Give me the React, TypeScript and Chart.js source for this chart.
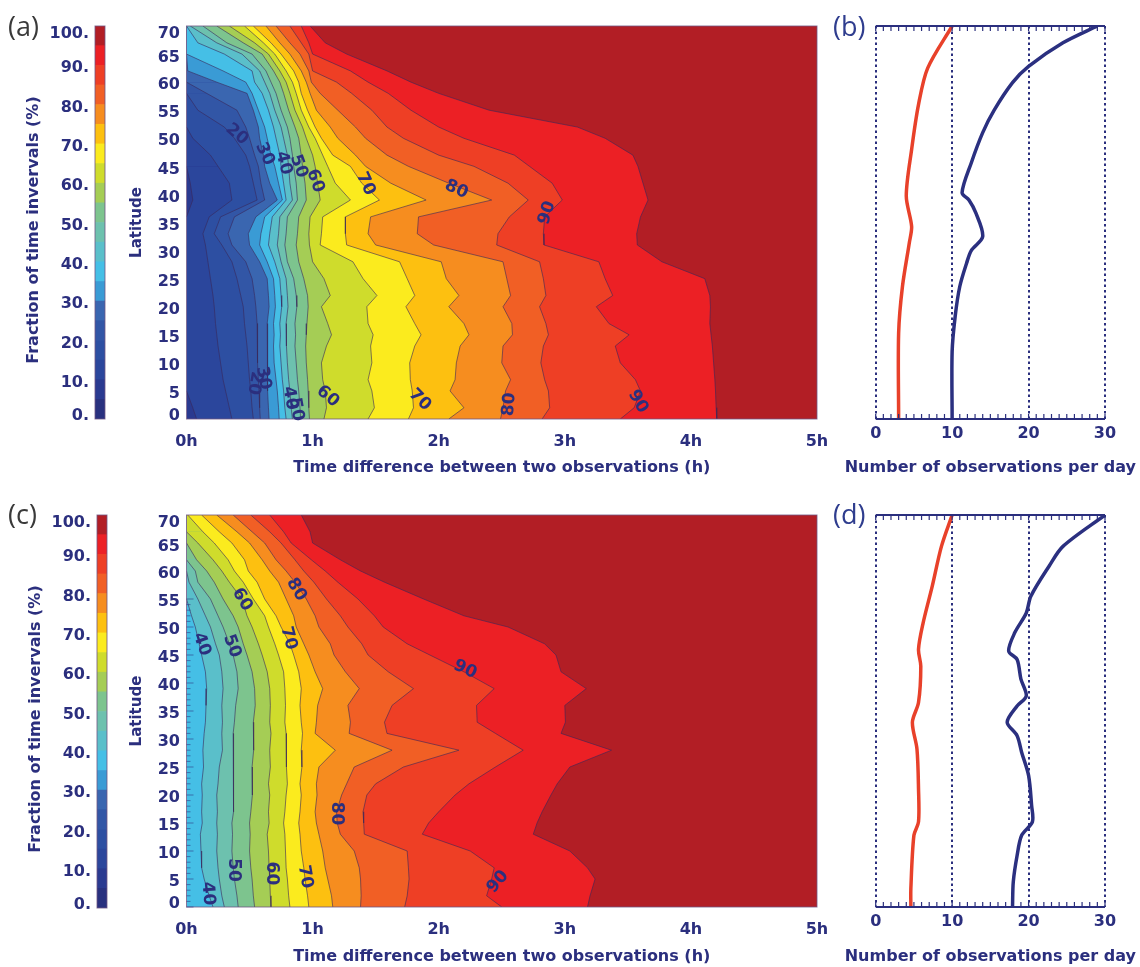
import { useEffect, useRef } from "react";
import { Chart, registerables } from "chart.js";

Chart.register(...registerables);

const NAVY = "#2b2f7e";
const FONT = "'DejaVu Sans', sans-serif";

// one colour per 5% band, 0-5 up to 95-100
const bandColors = [
  "#29317f", "#2a3a90", "#2b469c", "#2d4fa2", "#3256a6", "#3a66b0", "#3a9bd5", "#45bfe6", "#5abfca", "#6dc1ae",
  "#7dc48e", "#a5cd55", "#cfdc2c", "#fbeb1e", "#fdc010", "#f68d1f", "#f15f25", "#ee3f25", "#ec2025", "#b21e25",
];
const bandSteps = [5, 5, 5, 5, 5, 5, 5, 5, 5, 5, 5, 5, 5, 5, 5, 5, 5, 5, 5, 5];

const lats = [70, 67, 65, 62, 60, 58, 55, 52, 50, 47, 45, 42, 39, 36, 33, 31, 28, 25, 22, 20, 17, 15, 13, 10, 7, 5, 2, 0];

// hours at which the fraction reaches each level, one value per entry of lats
const levelsA = [5, 10, 15, 20, 25, 30, 35, 40, 45, 50, 55, 60, 65, 70, 75, 80, 85, 90, 95];
const contoursA = [
  [0, 0, 0, 0, 0, 0, 0, 0, 0, 0, 0, 0, 0, 0, 0, 0, 0, 0, 0, 0, 0, 0, 0, 0, 0, 0, 0, 0],
  [0, 0, 0, 0, 0, 0, 0, 0, 0, 0, 0, 0.03, 0.05, 0, 0, 0, 0, 0, 0, 0, 0, 0, 0, 0, 0, 0, 0.05, 0.08],
  [0, 0, 0, 0, 0, 0, 0, 0, 0.05, 0.19, 0.25, 0.34, 0.36, 0.18, 0.13, 0.15, 0.17, 0.19, 0.21, 0.22, 0.23, 0.24, 0.25, 0.27, 0.29, 0.31, 0.34, 0.36],
  [0, 0, 0, 0, 0, 0, 0.09, 0.3, 0.38, 0.47, 0.5, 0.53, 0.56, 0.27, 0.22, 0.28, 0.36, 0.4, 0.43, 0.45, 0.46, 0.47, 0.48, 0.49, 0.5, 0.51, 0.52, 0.53],
  [0, 0, 0, 0, 0, 0.16, 0.4, 0.47, 0.5, 0.54, 0.57, 0.59, 0.62, 0.38, 0.33, 0.36, 0.47, 0.52, 0.54, 0.55, 0.56, 0.565, 0.56, 0.565, 0.57, 0.575, 0.58, 0.585],
  [0, 0, 0, 0.01, 0.24, 0.48, 0.53, 0.57, 0.58, 0.61, 0.62, 0.66, 0.72, 0.55, 0.49, 0.5, 0.58, 0.64, 0.65, 0.655, 0.64, 0.645, 0.64, 0.645, 0.64, 0.645, 0.65, 0.655],
  [0, 0, 0, 0.29, 0.47, 0.52, 0.57, 0.62, 0.64, 0.67, 0.7, 0.73, 0.76, 0.62, 0.59, 0.58, 0.64, 0.69, 0.7, 0.705, 0.69, 0.695, 0.69, 0.695, 0.71, 0.72, 0.73, 0.735],
  [0, 0.09, 0.3, 0.52, 0.54, 0.6, 0.65, 0.69, 0.71, 0.74, 0.75, 0.77, 0.79, 0.68, 0.66, 0.65, 0.7, 0.74, 0.75, 0.755, 0.74, 0.745, 0.74, 0.75, 0.76, 0.77, 0.78, 0.79],
  [0.03, 0.24, 0.44, 0.58, 0.62, 0.66, 0.7, 0.75, 0.77, 0.8, 0.81, 0.82, 0.84, 0.74, 0.73, 0.72, 0.75, 0.79, 0.8, 0.805, 0.79, 0.795, 0.79, 0.8, 0.81, 0.82, 0.83, 0.84],
  [0.13, 0.32, 0.52, 0.63, 0.67, 0.71, 0.75, 0.8, 0.82, 0.84, 0.85, 0.87, 0.88, 0.8, 0.79, 0.78, 0.8, 0.85, 0.87, 0.875, 0.86, 0.865, 0.86, 0.87, 0.88, 0.89, 0.9, 0.905],
  [0.24, 0.45, 0.6, 0.69, 0.74, 0.77, 0.81, 0.86, 0.89, 0.91, 0.92, 0.94, 0.95, 0.89, 0.88, 0.87, 0.89, 0.93, 0.96, 0.965, 0.955, 0.95, 0.945, 0.95, 0.96, 0.965, 0.97, 0.975],
  [0.34, 0.54, 0.65, 0.74, 0.79, 0.82, 0.86, 0.92, 0.95, 1, 1.02, 1.04, 1.06, 0.98, 0.97, 0.975, 1, 1.09, 1.14, 1.07, 1.12, 1.15, 1.11, 1.07, 1.08, 1.1, 1.11, 1.09],
  [0.46, 0.61, 0.7, 0.79, 0.84, 0.87, 0.91, 0.97, 1.02, 1.08, 1.12, 1.18, 1.3, 1.08, 1.07, 1.06, 1.32, 1.4, 1.51, 1.43, 1.44, 1.48, 1.46, 1.47, 1.44, 1.47, 1.49, 1.44],
  [0.53, 0.67, 0.75, 0.85, 0.89, 0.91, 0.96, 1.02, 1.07, 1.16, 1.3, 1.39, 1.53, 1.26, 1.26, 1.27, 1.69, 1.75, 1.81, 1.74, 1.81, 1.86, 1.81, 1.77, 1.775, 1.79, 1.8, 1.76],
  [0.63, 0.74, 0.82, 0.91, 0.95, 0.98, 1.03, 1.14, 1.2, 1.34, 1.42, 1.62, 1.9, 1.46, 1.44, 1.5, 2.02, 2.06, 2.16, 2.08, 2.2, 2.24, 2.17, 2.14, 2.13, 2.09, 2.2, 2.08],
  [0.71, 0.82, 0.9, 0.97, 0.99, 1.06, 1.2, 1.34, 1.42, 1.59, 1.76, 2.08, 2.42, 1.84, 1.83, 1.96, 2.51, 2.54, 2.57, 2.51, 2.58, 2.585, 2.51, 2.5, 2.57, 2.53, 2.51, 2.49],
  [0.82, 0.91, 0.97, 1, 1.19, 1.31, 1.47, 1.59, 1.72, 2, 2.28, 2.55, 2.71, 2.56, 2.47, 2.46, 2.8, 2.83, 2.85, 2.8, 2.85, 2.87, 2.83, 2.81, 2.84, 2.87, 2.88, 2.82],
  [0.91, 0.97, 1, 1.3, 1.44, 1.6, 1.78, 2, 2.2, 2.6, 2.72, 2.9, 2.98, 2.84, 2.83, 2.835, 3.27, 3.32, 3.38, 3.25, 3.35, 3.51, 3.4, 3.44, 3.56, 3.6, 3.55, 3.44],
  [0.98, 1.1, 1.27, 1.59, 1.78, 2, 2.4, 3.1, 3.32, 3.54, 3.58, 3.62, 3.66, 3.6, 3.57, 3.575, 3.77, 4.11, 4.15, 4.155, 4.15, 4.16, 4.17, 4.18, 4.19, 4.195, 4.2, 4.205],
];

const levelsC = [35, 40, 45, 50, 55, 60, 65, 70, 75, 80, 85, 90, 95];
const contoursC = [
  [0, 0, 0, 0, 0, 0, 0, 0, 0, 0, 0, 0, 0, 0, 0, 0, 0, 0, 0, 0, 0, 0, 0, 0, 0, 0, 0, 0],
  [0, 0, 0, 0, 0, 0, 0, 0.04, 0.07, 0.1, 0.12, 0.15, 0.16, 0.155, 0.15, 0.14, 0.13, 0.135, 0.12, 0.125, 0.12, 0.125, 0.11, 0.115, 0.12, 0.14, 0.18, 0.21],
  [0, 0, 0, 0, 0, 0.02, 0.09, 0.15, 0.19, 0.23, 0.26, 0.28, 0.29, 0.28, 0.285, 0.28, 0.285, 0.26, 0.25, 0.24, 0.245, 0.24, 0.245, 0.24, 0.25, 0.26, 0.28, 0.3],
  [0, 0, 0, 0, 0.07, 0.09, 0.19, 0.25, 0.29, 0.34, 0.37, 0.4, 0.41, 0.39, 0.38, 0.37, 0.375, 0.37, 0.375, 0.37, 0.375, 0.36, 0.365, 0.36, 0.37, 0.38, 0.4, 0.41],
  [0, 0, 0, 0.08, 0.16, 0.22, 0.29, 0.37, 0.41, 0.45, 0.48, 0.52, 0.54, 0.545, 0.53, 0.535, 0.53, 0.52, 0.525, 0.52, 0.51, 0.5, 0.505, 0.5, 0.51, 0.52, 0.53, 0.54],
  [0, 0, 0.09, 0.21, 0.28, 0.34, 0.44, 0.48, 0.52, 0.57, 0.6, 0.64, 0.66, 0.665, 0.66, 0.67, 0.66, 0.665, 0.65, 0.66, 0.65, 0.655, 0.64, 0.65, 0.655, 0.66, 0.665, 0.67],
  [0.01, 0.13, 0.22, 0.33, 0.38, 0.45, 0.53, 0.62, 0.65, 0.7, 0.73, 0.77, 0.78, 0.785, 0.78, 0.79, 0.795, 0.79, 0.8, 0.79, 0.78, 0.77, 0.78, 0.785, 0.79, 0.8, 0.81, 0.82],
  [0.12, 0.26, 0.36, 0.46, 0.49, 0.56, 0.62, 0.71, 0.75, 0.82, 0.85, 0.89, 0.91, 0.9, 0.91, 0.92, 0.91, 0.915, 0.9, 0.91, 0.9, 0.89, 0.9, 0.91, 0.93, 0.94, 0.96, 0.97],
  [0.24, 0.4, 0.5, 0.6, 0.66, 0.73, 0.79, 0.85, 0.87, 0.93, 0.97, 1.02, 1.08, 1.04, 1.03, 1.02, 1.18, 1.05, 1.03, 1.035, 1.02, 1.03, 1.05, 1.08, 1.1, 1.12, 1.15, 1.16],
  [0.37, 0.52, 0.62, 0.71, 0.79, 0.86, 0.95, 1.02, 1.05, 1.14, 1.17, 1.26, 1.37, 1.28, 1.3, 1.29, 1.63, 1.33, 1.27, 1.23, 1.19, 1.195, 1.22, 1.33, 1.37, 1.38, 1.385, 1.38],
  [0.51, 0.66, 0.75, 0.86, 0.93, 1.01, 1.11, 1.22, 1.28, 1.39, 1.44, 1.6, 1.8, 1.63, 1.57, 1.59, 2.16, 1.72, 1.5, 1.43, 1.4, 1.405, 1.41, 1.75, 1.76, 1.765, 1.75, 1.73],
  [0.66, 0.77, 0.83, 0.99, 1.1, 1.2, 1.36, 1.49, 1.56, 1.75, 1.93, 2.2, 2.44, 2.3, 2.305, 2.45, 2.67, 2.45, 2.24, 2.13, 2, 1.92, 1.87, 2.25, 2.44, 2.42, 2.38, 2.5],
  [0.91, 0.98, 1, 1.22, 1.38, 1.57, 1.88, 2.2, 2.55, 2.84, 2.93, 2.97, 3.17, 3, 3.005, 2.97, 3.37, 3.04, 2.94, 2.89, 2.82, 2.78, 2.75, 3.04, 3.18, 3.24, 3.2, 3.18],
];

// contour labels as [text, hours, latitude, rotation in degrees]
type ContourLabel = [string, number, number, number];
const labelsA: ContourLabel[] = [
  ["20", 0.4, 50.7, 40], ["30", 0.62, 47.2, 65], ["40", 0.77, 45.6, 75], ["50", 0.89, 45, 70], ["60", 1.02, 42.4, 70],
  ["70", 1.42, 41.9, 65], ["80", 2.14, 40.9, 25], ["90", 2.86, 36.7, -72],
  ["20", 0.54, 6.4, 100], ["30", 0.61, 7.3, 80], ["40", 0.82, 3.7, 80], ["50", 0.87, 1.7, 80], ["60", 1.12, 4, 40],
  ["70", 1.85, 3.4, 45], ["80", 2.56, 2.6, -85], ["90", 3.58, 3.1, 60],
];
const labelsC: ContourLabel[] = [
  ["40", 0.12, 46.9, 70], ["50", 0.36, 46.6, 70], ["60", 0.44, 54.9, 60], ["70", 0.81, 48, 75], ["80", 0.87, 56.7, 60],
  ["90", 2.21, 42.4, 25], ["80", 1.19, 16.7, 90], ["40", 0.17, 2.4, 85], ["50", 0.37, 6.6, 90], ["60", 0.67, 6, 90],
  ["70", 0.94, 5.4, 80], ["90", 2.47, 4.5, -50],
];

// observations per day, blue and red curves of (b) and (d)
const blueLatB = [70, 67, 62.8, 59.9, 55, 51, 45.6, 40.3, 39, 36.7, 32.5, 30, 27.8, 23.6, 18.3, 12, 0];
const blueB = [29, 24.5, 20, 17.9, 15.5, 14, 12.5, 11.3, 12.2, 13.1, 14, 12.5, 11.9, 11, 10.4, 10, 10];
const redLatB = [70, 62.5, 56, 48, 39.7, 34.3, 31.4, 23.6, 15.3, 0];
const redB = [10, 6.8, 5.6, 4.7, 4, 4.7, 4.4, 3.5, 3, 3];
const blueLatD = [70, 64.4, 60.9, 55.5, 52.5, 49, 45.7, 44.2, 40.7, 37.7, 35.9, 33, 30.6, 27.6, 23.5, 18.1, 15.2, 12.8, 9.2, 4.5, 0];
const blueD = [30, 24.5, 22.7, 20.3, 19.7, 18.2, 17.4, 18.5, 19, 19.7, 18.5, 17.2, 18.5, 19.1, 20, 20.4, 20.5, 19.1, 18.5, 18, 17.9];
const redLatD = [70, 64.4, 57.3, 50.7, 46, 43, 36.5, 33, 28.2, 21.2, 15.2, 12.8, 3.3, 0];
const redD = [10, 8.6, 7.4, 6.2, 5.6, 5.9, 5.6, 4.8, 5.4, 5.6, 5.6, 5, 4.6, 4.6];

// draws y tick labels (nudged the way the original plot has them), titles, a frame and small ticks
const figurePlugin = {
  id: "figure",
  afterDatasetsDraw(chart: any, _args: any, opts: any) {
    const { ctx, chartArea: area, scales } = chart;
    ctx.save();
    if (opts.frame) {
      ctx.strokeStyle = "rgba(110,85,130,0.8)";
      ctx.lineWidth = 1;
      ctx.strokeRect(area.left, area.top, area.right - area.left, area.bottom - area.top);
    }
    if (opts.leftTicks) {
      ctx.strokeStyle = "rgba(43,47,126,0.55)";
      ctx.lineWidth = 1;
      for (let lat = 0; lat <= opts.leftTicks; lat++) {
        const y = scales.y.getPixelForValue(lat);
        ctx.beginPath();
        ctx.moveTo(area.left, y);
        ctx.lineTo(area.left + (lat % 5 === 0 ? 7 : 4), y);
        ctx.stroke();
      }
    }
    if (opts.rug) {
      ctx.strokeStyle = NAVY;
      for (const [y, dir] of [[area.top, 1], [area.bottom, -1]]) {
        ctx.lineWidth = 2.2;
        ctx.beginPath();
        ctx.moveTo(area.left, y);
        ctx.lineTo(area.right, y);
        ctx.stroke();
        ctx.lineWidth = 1.2;
        for (let v = 0; v <= 30; v++) {
          const x = scales.x.getPixelForValue(v);
          ctx.beginPath();
          ctx.moveTo(x, y);
          ctx.lineTo(x, y + dir * 5);
          ctx.stroke();
        }
      }
    }
    ctx.fillStyle = NAVY;
    if (opts.contourLabels) {
      ctx.font = `bold 17px ${FONT}`;
      ctx.textAlign = "center";
      ctx.textBaseline = "middle";
      for (const [text, h, lat, deg] of opts.contourLabels) {
        ctx.save();
        ctx.translate(scales.x.getPixelForValue(h), scales.y.getPixelForValue(lat));
        ctx.rotate((deg * Math.PI) / 180);
        ctx.fillText(text, 0, 0);
        ctx.restore();
      }
    }
    if (opts.tickLabels) {
      const { right, nudge, first, last, nextLast, suffix } = opts.tickLabels;
      ctx.font = `bold 16px ${FONT}`;
      ctx.textAlign = "right";
      ctx.textBaseline = "middle";
      const ticks = scales.y.ticks;
      ticks.forEach((t: any, i: number) => {
        let dy = nudge;
        if (i === 0) dy = first;
        if (i === ticks.length - 1) dy = last;
        if (i === ticks.length - 2 && nextLast) dy = nextLast;
        ctx.fillText(`${t.value}${suffix}`, right, scales.y.getPixelForValue(t.value) + dy);
      });
    }
    if (opts.bottomTitle) {
      const { text, y } = opts.bottomTitle;
      ctx.font = `bold 16px ${FONT}`;
      ctx.textAlign = "center";
      ctx.textBaseline = "middle";
      ctx.fillText(text, (area.left + area.right) / 2, y);
    }
    if (opts.sideTitle) {
      const { text, x, y } = opts.sideTitle;
      ctx.font = `bold 16px ${FONT}`;
      ctx.textAlign = "center";
      ctx.textBaseline = "middle";
      ctx.translate(x, y);
      ctx.rotate(-Math.PI / 2);
      ctx.fillText(text, 0, 0);
    }
    ctx.restore();
  },
};

type BoxProps = { left: number; top: number; width: number; height: number; build: () => any };

const ChartBox = ({ left, top, width, height, build }: BoxProps) => {
  const ref = useRef<HTMLCanvasElement>(null);
  useEffect(() => {
    const chart = new Chart(ref.current as HTMLCanvasElement, build());
    return () => chart.destroy();
  }, []);
  return <canvas ref={ref} width={width} height={height} style={{ position: "absolute", left, top, width, height }} />;
};

const contourChart = (levels: number[], rows: number[][], labels: ContourLabel[], leftTicks: number) => {
  const datasets = levels
    .map((lv, i) => ({
      data: lats.map((lat, j) => ({ x: rows[i][j], y: lat })),
      backgroundColor: bandColors[lv / 5],
      fill: { value: 5 },
      borderColor: "rgba(58,40,90,0.6)",
      borderWidth: 1,
      pointRadius: 0,
      tension: 0,
      segment: {
        borderColor: (c: any) => (c.p0.parsed.x <= 0 && c.p1.parsed.x <= 0 ? "transparent" : undefined),
      },
    }))
    .reverse();
  return {
    type: "line",
    data: { datasets },
    plugins: [figurePlugin],
    options: {
      animation: false,
      responsive: false,
      indexAxis: "y",
      layout: { padding: { top: 16, right: 23, left: 0, bottom: 0 } },
      scales: {
        x: {
          type: "linear",
          min: 0,
          max: 5,
          grid: { display: false },
          border: { display: false },
          afterFit: (s: any) => { s.height = 60; },
          ticks: {
            stepSize: 1,
            maxRotation: 0,
            padding: 5,
            color: NAVY,
            font: { family: FONT, size: 16, weight: "bold" },
            callback: (v: any) => `${v}h`,
          },
        },
        y: {
          type: "linear",
          min: 0,
          max: 70,
          grid: { display: false },
          border: { display: false },
          afterFit: (s: any) => { s.width = 66.5; },
          ticks: { stepSize: 5, display: false },
          title: {
            display: true,
            text: "Latitude",
            color: NAVY,
            font: { family: FONT, size: 15, weight: "bold" },
            padding: { top: 8, bottom: 0 },
          },
        },
      },
      plugins: {
        legend: { display: false },
        tooltip: { enabled: false },
        figure: {
          frame: true,
          leftTicks,
          contourLabels: labels,
          tickLabels: { right: 60, nudge: 3, first: -3, last: 7.5, nextLast: 4, suffix: "" },
          bottomTitle: { text: "Time difference between two observations (h)", y: 458 },
        },
      },
    },
  };
};

const colorbarChart = () => ({
  type: "bar",
  data: {
    labels: ["fraction"],
    datasets: bandSteps.map((step, i) => ({ data: [step], backgroundColor: bandColors[i], barPercentage: 1, categoryPercentage: 1 })),
  },
  plugins: [figurePlugin],
  options: {
    animation: false,
    responsive: false,
    layout: { padding: { top: 16, right: 10, left: 0, bottom: 51 } },
    scales: {
      x: { stacked: true, display: false },
      y: {
        stacked: true,
        min: 0,
        max: 100,
        grid: { display: false },
        border: { display: false },
        afterFit: (s: any) => { s.width = 85; },
        ticks: { stepSize: 10, display: false },
      },
    },
    plugins: {
      legend: { display: false },
      tooltip: { enabled: false },
      figure: {
        frame: true,
        tickLabels: { right: 79, nudge: 3, first: -3, last: 8, suffix: "." },
        sideTitle: { text: "Fraction of time invervals (%)", x: 24, y: 220 },
      },
    },
  },
});

const curve = (lat: number[], values: number[], color: string) => ({
  data: lat.map((y, i) => ({ x: values[i], y })),
  borderColor: color,
  borderWidth: 3.5,
  pointRadius: 0,
  tension: 0.3,
  fill: false,
});

const countChart = (blueLat: number[], blue: number[], redLat: number[], red: number[]) => ({
  type: "line",
  data: { datasets: [curve(redLat, red, "#e8412a"), curve(blueLat, blue, "#2b3080")] },
  plugins: [figurePlugin],
  options: {
    animation: false,
    responsive: false,
    indexAxis: "y",
    layout: { padding: { top: 16, right: 35, left: 45.7, bottom: 0 } },
    scales: {
      x: {
        type: "linear",
        min: 0,
        max: 30,
        grid: { color: NAVY, lineWidth: 2, drawTicks: false },
        border: { display: false, dash: [2.5, 3] },
        afterFit: (s: any) => { s.height = 60; },
        ticks: {
          stepSize: 10,
          maxRotation: 0,
          padding: 5,
          color: NAVY,
          font: { family: FONT, size: 16, weight: "bold" },
        },
      },
      y: { type: "linear", min: 0, max: 70, display: false },
    },
    plugins: {
      legend: { display: false },
      tooltip: { enabled: false },
      figure: {
        rug: true,
        bottomTitle: { text: "Number of observations per day", y: 458 },
      },
    },
  },
});

const Letter = ({ text, left, top, color }: { text: string; left: number; top: number; color: string }) => (
  <span style={{ position: "absolute", left, top, font: "27px 'Open Sans', sans-serif", color, lineHeight: "36px" }}>{text}</span>
);

const App = () => (
  <div style={{ position: "absolute", left: 0, top: 0, width: 1140, height: 967, background: "#fff", overflow: "hidden" }}>
    <ChartBox left={10} top={10} width={105} height={460} build={colorbarChart} />
    <ChartBox left={120} top={10} width={720} height={469} build={() => contourChart(levelsA, contoursA, labelsA, 0)} />
    <ChartBox left={830} top={10} width={310} height={469} build={() => countChart(blueLatB, blueB, redLatB, redB)} />
    <ChartBox left={12} top={499} width={105} height={460} build={colorbarChart} />
    <ChartBox left={120} top={499} width={720} height={468} build={() => contourChart(levelsC, contoursC, labelsC, 55)} />
    <ChartBox left={830} top={499} width={310} height={468} build={() => countChart(blueLatD, blueD, redLatD, redD)} />
    <Letter text="(a)" left={8} top={8} color="#3a3a3a" />
    <Letter text="(b)" left={833} top={8} color="#2f3d8e" />
    <Letter text="(c)" left={8} top={496} color="#3a3a3a" />
    <Letter text="(d)" left={833} top={496} color="#2f3d8e" />
  </div>
);

export default App;
